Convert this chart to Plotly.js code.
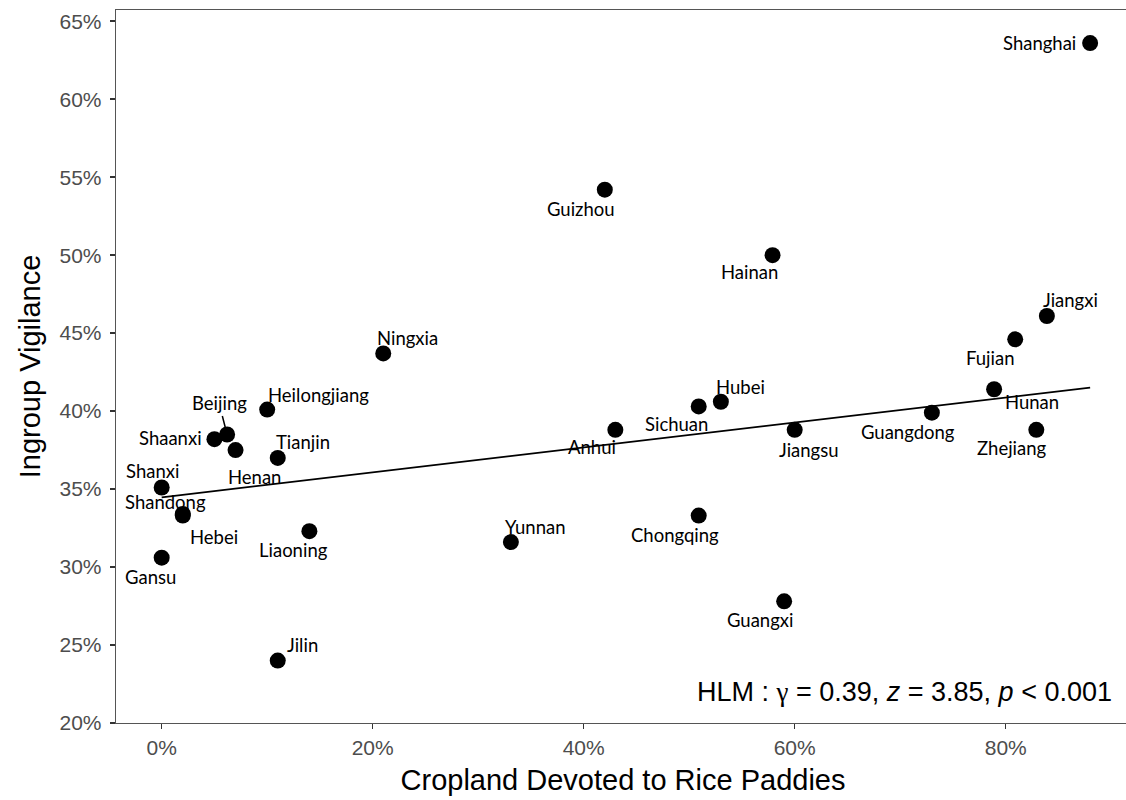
<!DOCTYPE html>
<html>
<head>
<meta charset="utf-8">
<script src="https://cdn.plot.ly/plotly-3.0.1.min.js"></script>
<style>
html,body{margin:0;padding:0;overflow:hidden;background:#fff;}
#chart{width:1130px;height:800px;}
</style>
</head>
<body>
<div id="chart"></div>
<script>
// Province-level data (percent values)
const provinces = ["Shanghai","Guizhou","Hainan","Jiangxi","Fujian","Ningxia","Hunan","Hubei","Sichuan","Heilongjiang","Guangdong","Anhui","Jiangsu","Zhejiang","Beijing","Shaanxi","Henan","Tianjin","Shanxi","Shandong","Hebei","Chongqing","Liaoning","Yunnan","Gansu","Guangxi","Jilin"];
const ricePct = [88.0, 42.0, 57.9, 83.9, 80.9, 21.0, 78.9, 53.0, 50.9, 10.0, 73.0, 43.0, 60.0, 82.9, 6.2, 5.0, 7.0, 11.0, 0.0, 2.0, 2.0, 50.9, 14.0, 33.1, 0.0, 59.0, 11.0];
const vigilancePct = [63.6, 54.2, 50.0, 46.1, 44.6, 43.7, 41.4, 40.6, 40.3, 40.1, 39.9, 38.8, 38.8, 38.8, 38.5, 38.2, 37.5, 37.0, 35.1, 33.4, 33.3, 33.3, 32.3, 31.6, 30.6, 27.8, 24.0];
// label offsets in pixels (dx right, dy down) relative to each point
const labelDx = [-51, -24, -23, 24, -25, 24, 38, 20, -22, 51, -24, -23, 14, -24, -8, -44, 19, 25, -9, -17, 31, -24, -16, 24, -11, -24, 25];
const labelDy = [0, 19, 17, -16, 19, -15, 13, -15, 18, -15, 19, 17, 20, 18, -31, -1, 27, -16, -17, -12, 21, 19, 19, -15, 19, 19, -16];

// fitted model line (intercept, slope)
const fitIntercept = 34.47;
const fitSlope = 0.080;

const xTicks = [0, 20, 40, 60, 80];
const xTickText = ["0%", "20%", "40%", "60%", "80%"];
const yTicks = [20, 25, 30, 35, 40, 45, 50, 55, 60, 65];
const yTickText = ["20%", "25%", "30%", "35%", "40%", "45%", "50%", "55%", "60%", "65%"];

const xMin = Math.min(...ricePct), xMax = Math.max(...ricePct);
const fitX = [xMin, xMax];
const fitY = fitX.map(v => fitIntercept + fitSlope * v);

const traces = [
  {x: fitX, y: fitY, mode: "lines", line: {color: "#000", width: 1.8}, hoverinfo: "skip", showlegend: false},
  {x: ricePct, y: vigilancePct, mode: "markers", marker: {color: "#000", size: 16}, text: provinces, showlegend: false}
];

const labelFont = {family: "Lato, 'Noto Sans', sans-serif", size: 18.5, color: "#000"};
const annotations = provinces.map((p, i) => {
  if (p === "Beijing") {
    return {x: ricePct[i], y: vigilancePct[i], xref: "x", yref: "y", text: p, showarrow: true,
      arrowhead: 0, arrowwidth: 1.5, arrowcolor: "#000", ax: labelDx[i], ay: labelDy[i], standoff: 0, font: labelFont};
  }
  return {x: ricePct[i], y: vigilancePct[i], xref: "x", yref: "y", text: p, showarrow: false,
    xshift: labelDx[i], yshift: -labelDy[i], font: labelFont};
});
annotations.push({
  xref: "paper", yref: "paper", x: 0.984, y: 0.02, xanchor: "right", yanchor: "bottom", showarrow: false,
  text: "HLM : <span style='font-family:Liberation Serif'>γ</span> = 0.39, <i>z</i> = 3.85, <i>p</i> &lt; 0.001",
  font: {family: "Liberation Sans, Arial, sans-serif", size: 27, color: "#000"}
});

const axisCommon = {
  showgrid: false, zeroline: false, showline: true, mirror: true, linecolor: "#555", linewidth: 1.3,
  ticks: "outside", ticklen: 5, tickwidth: 1.5, tickcolor: "#333",
  tickfont: {family: "Liberation Sans, Arial, sans-serif", size: 21, color: "#4d4d4d"}
};

const layout = {
  width: 1130, height: 800,
  margin: {l: 116, r: 0, t: 10, b: 77},
  paper_bgcolor: "#fff", plot_bgcolor: "#fff",
  xaxis: Object.assign({}, axisCommon, {
    range: [-4.33, 91.78], tickvals: xTicks, ticktext: xTickText,
    title: {text: "Cropland Devoted to Rice Paddies", font: {family: "Liberation Sans, Arial, sans-serif", size: 29, color: "#000"}, standoff: 12}
  }),
  yaxis: Object.assign({}, axisCommon, {
    range: [20.0, 65.72], tickvals: yTicks, ticktext: yTickText, ticklabelstandoff: 4,
    title: {text: "Ingroup Vigilance", font: {family: "Liberation Sans, Arial, sans-serif", size: 29, color: "#000"}, standoff: 10}
  }),
  annotations: annotations
};

Plotly.newPlot("chart", traces, layout, {displayModeBar: false, staticPlot: true});
</script>
</body>
</html>
